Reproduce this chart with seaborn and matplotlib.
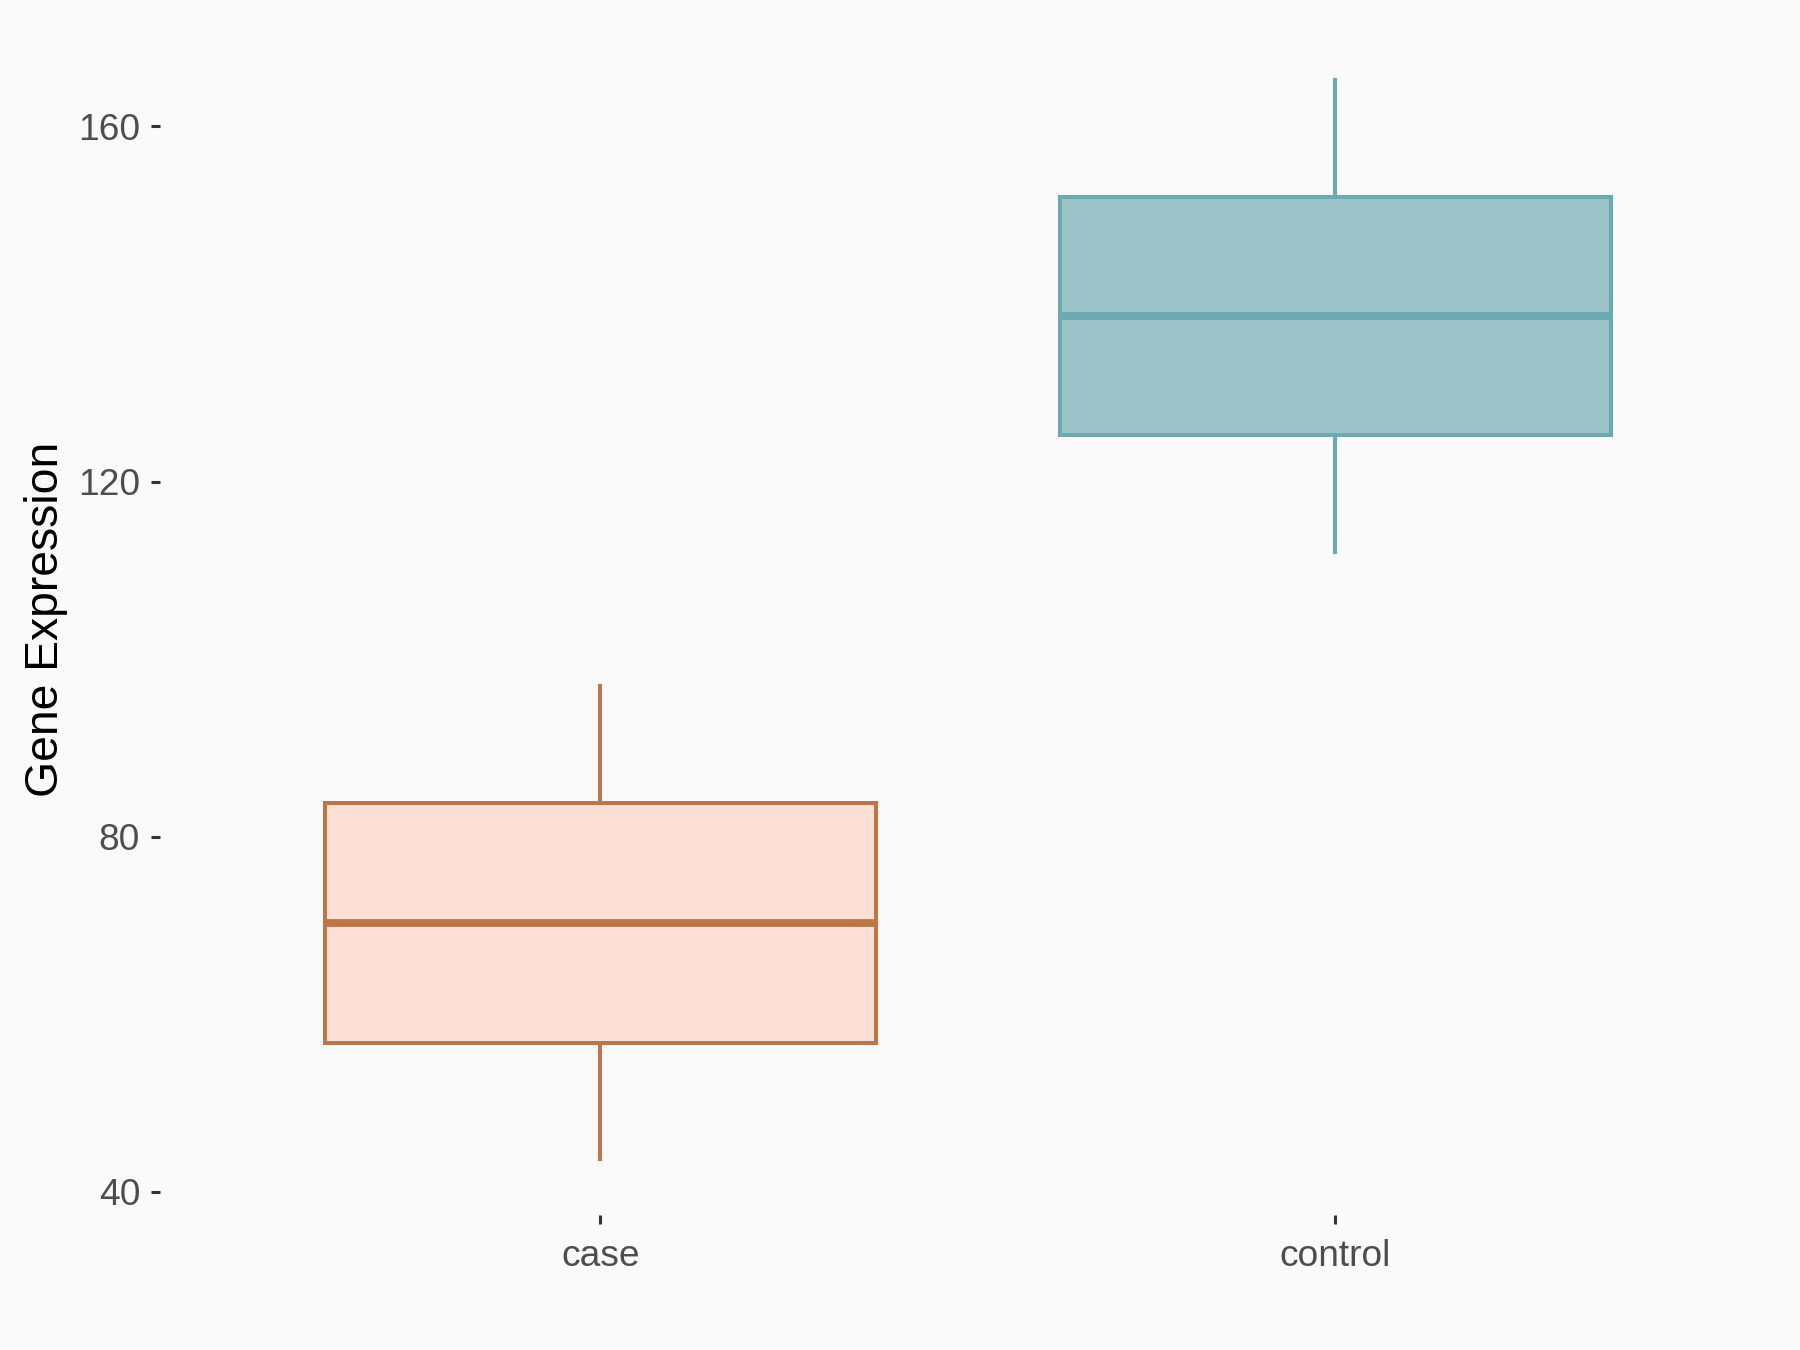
import matplotlib
matplotlib.use("Agg")
import matplotlib.pyplot as plt
import seaborn as sns
import pandas as pd

# Data (five-number summaries: min, Q1, median, Q3, max)
groups = ["case", "control"]
case_values = [43.5, 56.8, 70.3, 83.8, 97.2]
control_values = [111.8, 125.2, 138.7, 152.1, 165.4]
fill_colors = ["#FEE1D6", "#9DC4C8"]
edge_colors = ["#BF7646", "#6AAAB0"]
y_ticks = [40, 80, 120, 160]
y_label = "Gene Expression"

df = pd.DataFrame({
    "group": ["case"] * len(case_values) + ["control"] * len(control_values),
    "value": case_values + control_values,
})

sns.set_style("white")
plt.rcParams["font.family"] = ["Liberation Sans", "DejaVu Sans"]

bg = "#FAFAFA"
fig = plt.figure(figsize=(18, 13.5), dpi=100, facecolor=bg)
ax = fig.add_axes([0.0887, 0.100, 0.9867 - 0.0887, 0.982 - 0.100])
ax.set_facecolor(bg)

for g, fc, ec in zip(groups, fill_colors, edge_colors):
    sub = df[df["group"] == g]
    sns.boxplot(data=sub, x="group", y="value", order=groups, ax=ax,
                color=fc, linecolor=ec, saturation=1, width=0.75,
                linewidth=2.9, showfliers=False,
                medianprops=dict(linewidth=5.6, color=ec),
                capprops=dict(linewidth=0))

# ggplot-like expansion
vmin, vmax = df["value"].min(), df["value"].max()
rng = vmax - vmin
ax.set_ylim(vmin - 0.05 * rng, vmax + 0.05 * rng)
ax.set_xlim(-0.6, 1.6)
ax.set_yticks(y_ticks)
ax.set_yticklabels([str(t) for t in y_ticks])

for s in ax.spines.values():
    s.set_visible(False)
ax.grid(False)

ax.tick_params(axis="both", which="both", length=6.5, width=2.2, color="#333333",
               labelsize=26.7, labelcolor="#4D4D4D", pad=7.5,
               left=True, bottom=True)
ax.tick_params(axis="x", pad=10.5)
ax.set_xlabel("")
ax.set_ylabel(y_label, fontsize=33.3, color="black")
ax.yaxis.set_label_coords(-0.0569, 0.5 - (619 - (24 + 1214.6) / 2) / (1214.6 - 24))

fig.savefig("out.png", dpi=100, facecolor=bg)
